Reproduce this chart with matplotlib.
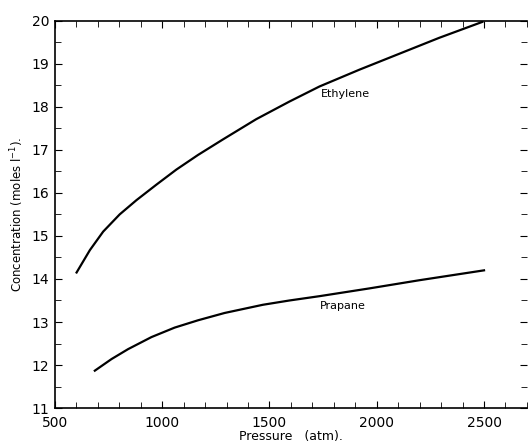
import matplotlib
matplotlib.use("Agg")
import matplotlib.pyplot as plt
from matplotlib.ticker import MultipleLocator

# values
ethylene_p = [601, 663, 725, 802, 880, 973, 1066, 1167, 1283, 1438, 1593, 1733, 1919, 2105, 2291, 2492]
ethylene_c = [14.15, 14.67, 15.1, 15.5, 15.83, 16.19, 16.54, 16.88, 17.24, 17.71, 18.12, 18.47, 18.86, 19.23, 19.6, 19.97]

propane_p = [686, 764, 841, 950, 1058, 1167, 1291, 1469, 1593, 1733, 1965, 2198, 2500]
propane_c = [11.87, 12.14, 12.37, 12.65, 12.87, 13.04, 13.21, 13.4, 13.5, 13.6, 13.78, 13.97, 14.2]

x_ticks = [500, 1000, 1500, 2000, 2500]
y_ticks = [11, 12, 13, 14, 15, 16, 17, 18, 19, 20]

fig = plt.figure(figsize=(5.28, 4.48), dpi=100)
ax = fig.add_axes([0.104, 0.089, 0.894, 0.865])

ax.plot(ethylene_p, ethylene_c, color="black", lw=1.6, solid_joinstyle="round")
ax.plot(propane_p, propane_c, color="black", lw=1.6, solid_joinstyle="round")

ax.text(1740, 18.3, "Ethylene", fontsize=8, va="center")
ax.text(1735, 13.38, "Prapane", fontsize=8, va="center")

ax.set_xlim(500, 2700)
ax.set_ylim(11, 20)
ax.set_xticks(x_ticks)
ax.set_yticks(y_ticks)
ax.xaxis.set_minor_locator(MultipleLocator(100))
ax.yaxis.set_minor_locator(MultipleLocator(0.5))
ax.tick_params(which="both", direction="in", top=True, right=True, labelsize=10)
ax.tick_params(axis="x", pad=6)
ax.tick_params(axis="y", pad=4)
ax.tick_params(which="major", length=5)
ax.tick_params(which="minor", length=4)
ax.spines["right"].set_visible(False)
for s in ["left", "bottom", "top"]:
    ax.spines[s].set_linewidth(1.2)

ax.set_xlabel("Pressure   (atm).", fontsize=9, labelpad=0)
ax.set_ylabel("Concentration (moles l$^{-1}$).", fontsize=8.5, labelpad=4)

fig.savefig("out.png", dpi=100)
